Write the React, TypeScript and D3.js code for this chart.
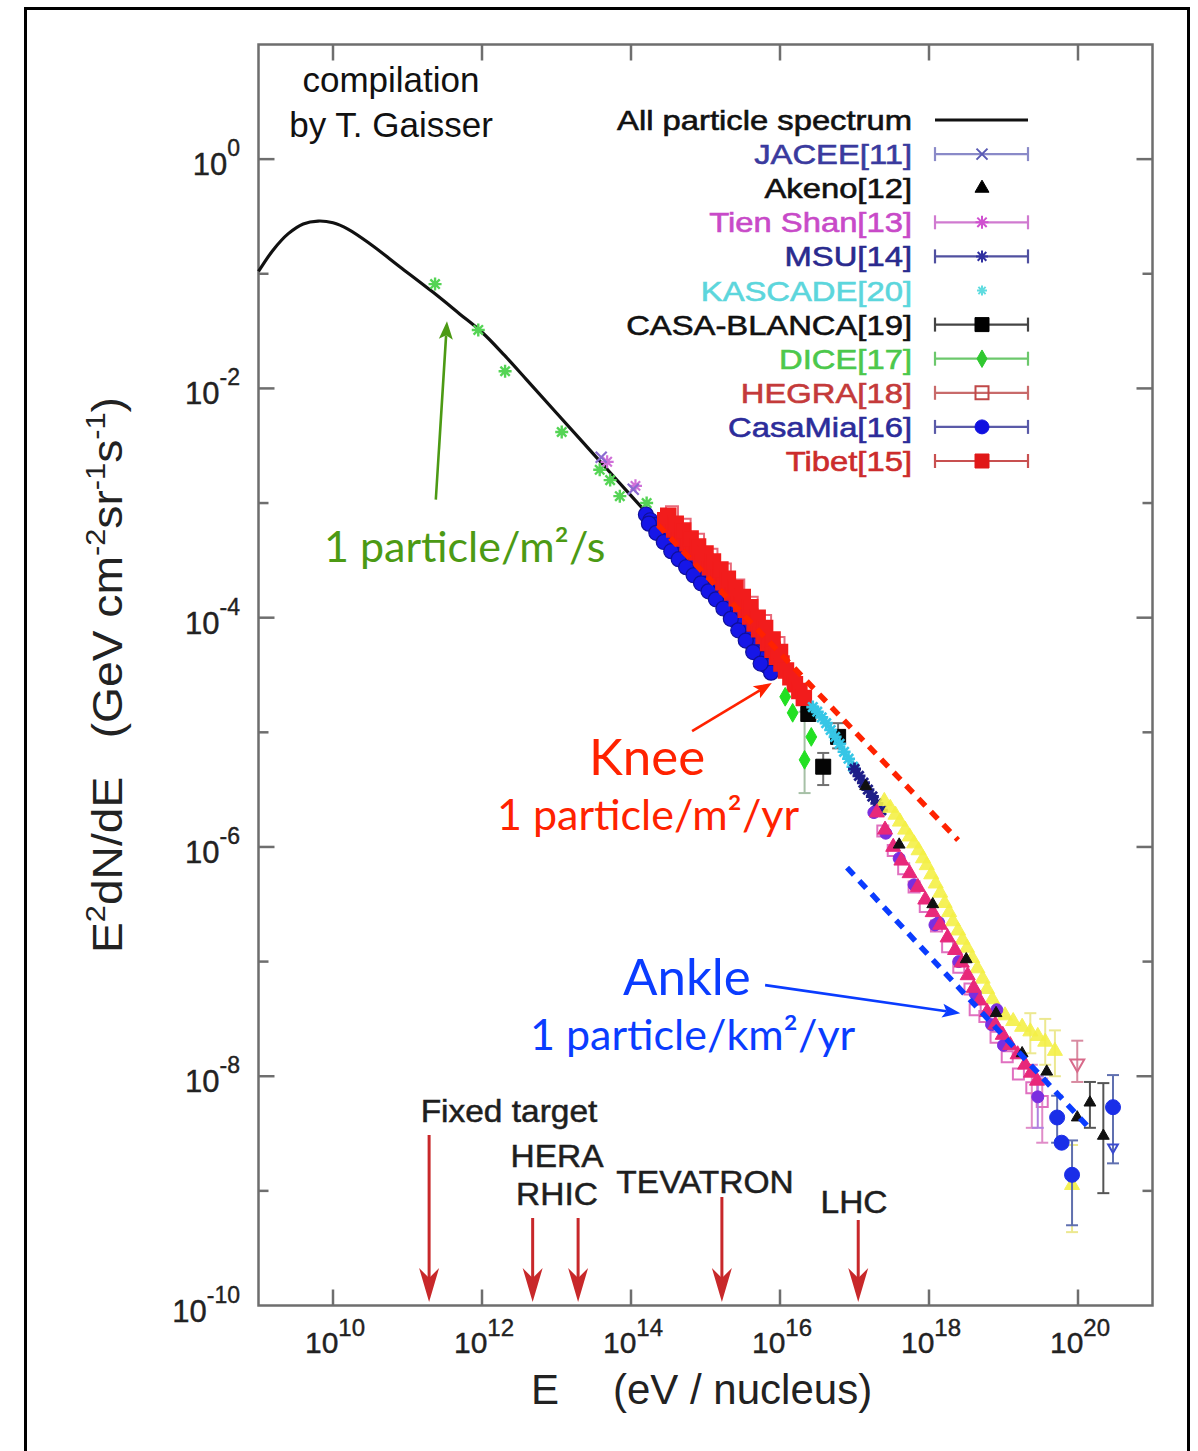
import React from 'react';
import * as d3 from 'd3';

type P = number[]; // [log10 E (eV), log10 E^2 dN/dE, errHi?, errLo?]

// ---------------- data (log10 values) ----------------
const allParticle: P[] = [
  [9.0, -0.98], [9.2, -0.79], [9.4, -0.65], [9.6, -0.565], [9.8, -0.54], [10.0, -0.555],
  [10.2, -0.61], [10.5, -0.74], [10.9, -0.94], [11.34, -1.16], [11.7, -1.35], [12.0, -1.51],
  [12.3, -1.71], [12.6, -1.925], [13.0, -2.215], [13.5, -2.575], [14.0, -2.935], [14.5, -3.295],
];
const directGreen: P[] = [
  [11.37, -1.09], [11.95, -1.49], [12.31, -1.85], [13.07, -2.38], [13.58, -2.71], [13.72, -2.8],
  [13.85, -2.94], [14.21, -3.0],
];
const jacee: P[] = [[13.6, -2.6], [14.03, -2.88]];
const tienShan: P[] = [[13.68, -2.64], [14.06, -2.85]];
const casaMia: P[] = [
  [14.2, -3.1], [14.26, -3.15], [14.32, -3.19], [14.38, -3.24], [14.44, -3.28], [14.5, -3.32],
  [14.56, -3.37], [14.62, -3.41], [14.68, -3.45], [14.74, -3.49], [14.8, -3.54], [14.86, -3.58],
  [14.92, -3.62], [14.98, -3.66], [15.04, -3.7], [15.1, -3.74], [15.16, -3.79], [15.22, -3.84],
  [15.28, -3.89], [15.34, -3.94], [15.4, -4.0], [15.46, -4.06], [15.52, -4.12], [15.58, -4.18],
  [15.64, -4.24], [15.7, -4.3], [15.76, -4.36], [15.82, -4.42], [15.88, -4.48],
  [14.24, -3.18], [14.34, -3.26], [14.44, -3.34], [14.54, -3.42], [14.64, -3.49], [14.74, -3.56],
  [14.84, -3.63], [14.94, -3.7], [15.04, -3.77], [15.14, -3.84], [15.24, -3.92], [15.34, -4.01],
  [15.44, -4.11], [15.54, -4.2], [15.64, -4.3], [15.74, -4.4],
];
const tibet: P[] = [
  [14.46, -3.15], [14.52, -3.19], [14.58, -3.23], [14.64, -3.27], [14.7, -3.31], [14.76, -3.35],
  [14.82, -3.39], [14.88, -3.43], [14.94, -3.47], [15.0, -3.51], [15.06, -3.56], [15.12, -3.6],
  [15.18, -3.64], [15.24, -3.69], [15.3, -3.73], [15.36, -3.78], [15.42, -3.83], [15.48, -3.88],
  [15.54, -3.93], [15.6, -3.99], [15.66, -4.05], [15.72, -4.1], [15.78, -4.16], [15.84, -4.22],
  [15.9, -4.28], [15.96, -4.34], [16.02, -4.4], [16.08, -4.46], [16.14, -4.52], [16.2, -4.58],
  [16.26, -4.64], [16.32, -4.7],
  [14.5, -3.11], [14.6, -3.18], [14.7, -3.24], [14.8, -3.31], [14.9, -3.38], [15.0, -3.44],
  [15.1, -3.51], [15.2, -3.58], [15.3, -3.66], [15.4, -3.74], [15.5, -3.82], [15.6, -3.91],
  [15.7, -4.0], [15.8, -4.09], [15.9, -4.19], [16.0, -4.3],
];
const hegra: P[] = [
  [14.55, -3.08], [14.72, -3.19], [14.9, -3.32], [15.08, -3.45], [15.26, -3.58], [15.44, -3.72],
  [15.62, -3.87], [15.8, -4.03], [15.98, -4.22],
];
const dice: P[] = [[16.07, -4.69], [16.17, -4.83], [16.42, -5.04], [16.33, -5.24, -4.82, -5.53]];
const casaBlanca: P[] = [[16.38, -4.84], [16.58, -5.3, -5.18, -5.46], [16.78, -5.04, -4.92, -5.14]];
const kascade: P[] = [
  [16.44, -4.78], [16.5, -4.82], [16.56, -4.87], [16.62, -4.92], [16.68, -4.98], [16.74, -5.04],
  [16.8, -5.1], [16.86, -5.17], [16.92, -5.23], [16.98, -5.3],
];
const msu: P[] = [[17.0, -5.32], [17.06, -5.38], [17.12, -5.44], [17.18, -5.5], [17.24, -5.56], [17.3, -5.62], [17.36, -5.68]];
const yellowHE: P[] = [
  [17.4, -5.6], [17.48, -5.66], [17.55, -5.72], [17.61, -5.78], [17.68, -5.85],
  [17.74, -5.91], [17.8, -5.97], [17.86, -6.03], [17.92, -6.1], [17.97, -6.16], [18.03, -6.24],
  [18.09, -6.32], [18.15, -6.4], [18.21, -6.49], [18.27, -6.57], [18.32, -6.65], [18.39, -6.73],
  [18.45, -6.81], [18.51, -6.88], [18.58, -6.97], [18.65, -7.06], [18.72, -7.15], [18.78, -7.24],
  [18.85, -7.33], [18.91, -7.41], [19.02, -7.47], [19.13, -7.52], [19.25, -7.57],
  [19.36, -7.61, -7.45, -7.8], [19.46, -7.65], [19.56, -7.7, -7.5, -7.9], [19.69, -7.78, -7.6, -8.0],
  [19.92, -8.95, -8.6, -9.36],
];
const pinkHE: P[] = [
  [17.38, -5.86], [17.52, -6.03], [17.66, -6.19], [17.8, -6.35], [17.95, -6.52], [18.1, -6.69],
  [18.25, -6.87], [18.4, -7.05], [18.55, -7.24], [18.62, -7.42], [18.75, -7.48], [18.9, -7.66],
  [19.05, -7.83], [19.2, -7.98], [19.38, -8.1, -7.9, -8.45], [19.52, -8.22, -8.02, -8.58],
];
const violetHE: P[] = [
  [17.26, -5.7], [17.42, -5.88], [17.6, -6.1], [17.8, -6.33], [18.08, -6.68], [18.13, -6.66],
  [18.4, -7.0], [18.62, -7.28], [18.84, -7.55], [18.91, -7.42], [19.0, -7.73], [19.46, -8.18, -8.0, -8.45],
];
const magentaHE: P[] = [
  [17.3, -5.7], [17.41, -5.85], [17.52, -6.0], [17.63, -6.12], [17.74, -6.23], [17.85, -6.35],
  [17.95, -6.46], [18.05, -6.57], [18.15, -6.68], [18.25, -6.79], [18.35, -6.9], [18.44, -7.01],
  [18.52, -7.12], [18.6, -7.23], [18.68, -7.34], [18.78, -7.44], [18.89, -7.55], [18.99, -7.64],
  [19.09, -7.73], [19.19, -7.81], [19.29, -7.9], [19.37, -7.97], [19.45, -8.04],
];
const akeno: P[] = [
  [17.15, -5.47], [17.6, -5.98], [18.05, -6.5], [18.5, -6.98], [18.9, -7.45], [19.25, -7.8],
  [19.58, -7.96], [19.99, -8.36], [20.16, -8.23, -8.05, -8.45], [20.34, -8.52, -8.06, -9.02],
];
const blueHE: P[] = [[19.72, -8.36, -8.17, -8.58], [19.78, -8.58], [19.92, -8.86, -8.56, -9.3], [20.47, -8.27, -7.99, -8.76]];
const pinkTail: P[] = [[19.99, -7.89, -7.69, -8.05]];
const blueLimit: P[] = [[20.47, -8.62]];

const kneeRef: P[] = [[14.36, -3.19], [18.39, -5.94]];
const ankleRef: P[] = [[16.9, -6.18], [20.12, -8.43]];

const xTickExp = [10, 12, 14, 16, 18, 20];
const yTickExp = [0, -1, -2, -3, -4, -5, -6, -7, -8, -9];
const yLabelExp = [0, -2, -4, -6, -8, -10];

const legendNames = [
  'All particle spectrum', 'JACEE[11]', 'Akeno[12]', 'Tien Shan[13]', 'MSU[14]', 'KASCADE[20]',
  'CASA-BLANCA[19]', 'DICE[17]', 'HEGRA[18]', 'CasaMia[16]', 'Tibet[15]',
];
const accelNames = ['Fixed target', 'HERA', 'RHIC', 'TEVATRON', 'LHC'];
const accelLogE = [11.29, 12.68, 13.29, 15.22, 17.05];

// ---------------- layout & styles ----------------
const W = 1198;
const H = 1451;
const PL = 258.5, PR = 1152.5, PT = 44.5, PB = 1305.5;
const xScale = d3.scaleLog().domain([1e9, 1e21]).range([PL, PR]);
const yScale = d3.scaleLog().domain([1e-10, 10]).range([PB, PT]);
const X = (le: number) => xScale(Math.pow(10, le));
const Y = (lf: number) => yScale(Math.pow(10, lf));

const SANS = "'Liberation Sans', Arial, Helvetica, sans-serif";
const HUM = "Lato, 'Open Sans', sans-serif";
const FRAME = '#6e6e6e';

const symbolPath = (type: string, s: number): string => {
  const h = s / 2;
  if (type === 'circle') return d3.symbol().type(d3.symbolCircle).size(Math.PI * h * h)() as string;
  if (type === 'square' || type === 'osquare') return d3.symbol().type(d3.symbolSquare).size(s * s)() as string;
  if (type === 'triangle' || type === 'dtriangle' || type === 'odtriangle')
    return d3.symbol().type(d3.symbolTriangle).size(s * s * 0.5)() as string;
  if (type === 'diamond') return d3.symbol().type(d3.symbolDiamond).size(s * s * 0.45)() as string;
  if (type === 'x') return `M${-h},${-h}L${h},${h}M${-h},${h}L${h},${-h}`;
  const d = h * 0.72;
  return `M${-h},0L${h},0M0,${-h}L0,${h}M${-d},${-d}L${d},${d}M${-d},${d}L${d},${-d}`;
};
const isOpen = (t: string) => ['x', 'asterisk', 'osquare', 'odtriangle'].includes(t);

type SeriesStyle = { data: P[]; marker: string; size: number; color: string; sw: number; stroke?: string; bar?: string; op?: number };
const plotSeries: SeriesStyle[] = [
  { data: directGreen, marker: 'asterisk', size: 13, color: '#55d455', sw: 2.4 },
  { data: tienShan, marker: 'asterisk', size: 13, color: '#d070d8', sw: 2.2 },
  { data: jacee, marker: 'x', size: 11, color: '#8a6ad0', sw: 2.2 },
  { data: casaMia, marker: 'circle', size: 15, color: '#1616e8', sw: 1.2, stroke: '#10109a' },
  { data: hegra, marker: 'osquare', size: 12, color: '#e86a7a', sw: 2 },
  { data: tibet, marker: 'square', size: 15, color: '#f21c1c', sw: 1.5, stroke: '#f21c1c' },
  { data: dice, marker: 'diamond', size: 15, color: '#22e022', sw: 1, bar: '#a6c0a6' },
  { data: casaBlanca, marker: 'square', size: 15, color: '#050505', sw: 1, bar: '#707070' },
  { data: kascade, marker: 'asterisk', size: 13, color: '#36c6e6', sw: 2.6 },
  { data: msu, marker: 'asterisk', size: 13, color: '#1e1e88', sw: 2.8 },
  { data: yellowHE, marker: 'triangle', size: 14, color: '#f4f046', sw: 1, bar: '#ece890', op: 0.9 },
  { data: pinkHE, marker: 'osquare', size: 11, color: '#e070c0', sw: 2, bar: '#e08cc8' },
  { data: violetHE, marker: 'circle', size: 12, color: '#7a2ee0', sw: 1, bar: '#b080e0' },
  { data: magentaHE, marker: 'triangle', size: 14, color: '#e8287a', sw: 1 },
  { data: akeno, marker: 'triangle', size: 11, color: '#111111', sw: 1, bar: '#555555' },
  { data: blueHE, marker: 'circle', size: 15, color: '#1a2ee8', sw: 1, bar: '#6070b0' },
  { data: pinkTail, marker: 'odtriangle', size: 13, color: '#d86a8a', sw: 2, bar: '#d88aa0' },
  { data: blueLimit, marker: 'odtriangle', size: 9, color: '#3a4ad0', sw: 2 },
];

const legendText = ['#111', '#3a3a9e', '#111', '#c84ac8', '#2a2a8e', '#5cd6dc', '#111', '#4cc84c', '#c43a3a', '#2c2c9a', '#cc2c2c'];
const legendMarker = ['', 'x', 'triangle', 'asterisk', 'asterisk', 'asterisk', 'square', 'diamond', 'osquare', 'circle', 'square'];
const legendMarkerColor = ['', '#5a5ab4', '#000', '#d050d0', '#3030a0', '#60dce0', '#000', '#30c830', '#c04848', '#1010e0', '#e01818'];
const legendBar = ['', '#8a8ac8', '', '#d07ad0', '#5050a0', '', '#444', '#6cc86c', '#c86a6a', '#5a5aa8', '#c85050'];
const legendSize = [0, 11, 13, 13, 12, 10, 14, 14, 13, 14, 14];

const accelTop = [1135, 1218, 1218, 1197, 1220];
const accelLabels = [
  { t: 'Fixed target', x: 509, y: 1122 },
  { t: 'HERA', x: 557, y: 1167 },
  { t: 'RHIC', x: 557, y: 1205 },
  { t: 'TEVATRON', x: 705, y: 1193 },
  { t: 'LHC', x: 854, y: 1213 },
];

function Arrow({ x1, y1, x2, y2, color, width, len, half, notch }:
  { x1: number; y1: number; x2: number; y2: number; color: string; width: number; len: number; half: number; notch: number }) {
  const a = Math.atan2(y2 - y1, x2 - x1);
  const c = Math.cos(a), s = Math.sin(a);
  const bx = x2 - len * c, by = y2 - len * s;
  const nx = x2 - (len - notch) * c, ny = y2 - (len - notch) * s;
  const head = `M${x2},${y2}L${bx - s * half},${by + c * half}L${nx},${ny}L${bx + s * half},${by - c * half}Z`;
  return (
    <g>
      <line x1={x1} y1={y1} x2={nx} y2={ny} stroke={color} strokeWidth={width} />
      <path d={head} fill={color} />
    </g>
  );
}

function Marker({ type, x, y, size, color, sw, stroke, op }:
  { type: string; x: number; y: number; size: number; color: string; sw: number; stroke?: string; op?: number }) {
  const open = isOpen(type);
  const rot = type === 'dtriangle' || type === 'odtriangle' ? ' rotate(180)' : '';
  return (
    <path
      d={symbolPath(type, size)}
      transform={`translate(${x},${y})${rot}`}
      fill={open ? 'none' : color}
      stroke={stroke || color}
      strokeWidth={sw}
      opacity={op ?? 1}
    />
  );
}

export default function App() {
  const curve = d3.line<P>().x((d) => X(d[0])).y((d) => Y(d[1])).curve(d3.curveCatmullRom.alpha(0.5))(allParticle) as string;
  const straight = d3.line<P>().x((d) => X(d[0])).y((d) => Y(d[1]));
  const legendY = (i: number) => 120 + i * 34.1;

  return (
    <svg width={W} height={H} style={{ position: 'absolute', left: 0, top: 0, background: '#fff' }} xmlns="http://www.w3.org/2000/svg">
      <rect x={0} y={0} width={W} height={H} fill="#fff" />
      {/* outer border */}
      <rect x={25.5} y={8.5} width={1163} height={1470} fill="none" stroke="#000" strokeWidth={3} />

      {/* frame */}
      <rect x={PL} y={PT} width={PR - PL} height={PB - PT} fill="none" stroke={FRAME} strokeWidth={2.5} />
      {xTickExp.map((e) => (
        <g key={'xt' + e}>
          <line x1={X(e)} x2={X(e)} y1={PB} y2={PB - 16} stroke={FRAME} strokeWidth={2.5} />
          <line x1={X(e)} x2={X(e)} y1={PT} y2={PT + 16} stroke={FRAME} strokeWidth={2.5} />
          <text x={X(e) + 2} y={1353} textAnchor="middle" fontFamily={SANS} fontSize={30} fill="#222" stroke="#222" strokeWidth={0.4}>
            <tspan>10</tspan>
            <tspan dy={-17} fontSize={24}>{e}</tspan>
          </text>
        </g>
      ))}
      {yTickExp.map((e) => {
        const major = e % 2 === 0;
        const len = major ? 16 : 10;
        return (
          <g key={'yt' + e}>
            <line x1={PL} x2={PL + len} y1={Y(e)} y2={Y(e)} stroke={FRAME} strokeWidth={2.5} />
            <line x1={PR} x2={PR - len} y1={Y(e)} y2={Y(e)} stroke={FRAME} strokeWidth={2.5} />
          </g>
        );
      })}
      {yLabelExp.map((e) => (
        <text key={'yl' + e} x={240} y={Y(e) + 16} textAnchor="end" fontFamily={SANS} fontSize={31} fill="#222" stroke="#222" strokeWidth={0.4}>
          <tspan>10</tspan>
          <tspan dy={-19} fontSize={23}>{e}</tspan>
        </text>
      ))}

      {/* axis titles */}
      <text x={531} y={1404} fontFamily={SANS} fontSize={42} fill="#222">E</text>
      <text x={613} y={1404} fontFamily={SANS} fontSize={42} fill="#222">(eV / nucleus)</text>
      <text transform="translate(122,675) rotate(-90) scale(1.1,1)" textAnchor="middle" fontFamily={SANS} fontSize={42} fill="#222" style={{ whiteSpace: 'pre' }}>
        <tspan>E</tspan>
        <tspan dy={-17} fontSize={28}>2</tspan>
        <tspan dy={17}>dN/dE   (GeV cm</tspan>
        <tspan dy={-17} fontSize={28}>-2</tspan>
        <tspan dy={17}>sr</tspan>
        <tspan dy={-17} fontSize={28}>-1</tspan>
        <tspan dy={17}>s</tspan>
        <tspan dy={-17} fontSize={28}>-1</tspan>
        <tspan dy={17}>)</tspan>
      </text>

      {/* all-particle spectrum */}
      <path d={curve} fill="none" stroke="#111" strokeWidth={3.2} />

      {/* data */}
      {plotSeries.map((s, si) => (
        <g key={'s' + si}>
          {s.bar &&
            s.data.filter((p) => p.length >= 4).map((p, pi) => (
              <g key={'b' + pi} stroke={s.bar} strokeWidth={2}>
                <line x1={X(p[0])} x2={X(p[0])} y1={Y(p[2])} y2={Y(p[3])} />
                <line x1={X(p[0]) - 6} x2={X(p[0]) + 6} y1={Y(p[2])} y2={Y(p[2])} />
                <line x1={X(p[0]) - 6} x2={X(p[0]) + 6} y1={Y(p[3])} y2={Y(p[3])} />
              </g>
            ))}
          {s.data.map((p, pi) => (
            <Marker key={pi} type={s.marker} x={X(p[0])} y={Y(p[1])} size={s.size} color={s.color} sw={s.sw} stroke={s.stroke} op={s.op} />
          ))}
        </g>
      ))}

      {/* reference dashed lines */}
      <path d={straight(kneeRef) as string} stroke="#ff2200" strokeWidth={5.5} strokeDasharray="10 8" fill="none" />
      <path d={straight(ankleRef) as string} stroke="#0a3cff" strokeWidth={5.5} strokeDasharray="10 8" fill="none" />

      {/* compilation text */}
      <text x={391} y={92} textAnchor="middle" fontFamily={SANS} fontSize={35} fill="#111">compilation</text>
      <text x={391} y={137} textAnchor="middle" fontFamily={SANS} fontSize={35} fill="#111">by T. Gaisser</text>

      {/* legend */}
      {legendNames.map((n, i) => {
        const y = legendY(i);
        return (
          <g key={'lg' + i}>
            <g transform={`translate(912,${y + 10}) scale(1.17,1)`}>
              <text x={0} y={0} textAnchor="end" fontFamily={SANS} fontSize={28} fill={legendText[i]} stroke={legendText[i]} strokeWidth={0.6}>{n}</text>
            </g>
            {i === 0 && <line x1={935} x2={1028} y1={y} y2={y} stroke="#111" strokeWidth={3} />}
            {legendBar[i] && (
              <g stroke={legendBar[i]} strokeWidth={2.2}>
                <line x1={935} x2={1028} y1={y} y2={y} />
                <line x1={935} x2={935} y1={y - 7} y2={y + 7} />
                <line x1={1028} x2={1028} y1={y - 7} y2={y + 7} />
              </g>
            )}
            {legendMarker[i] && (
              <Marker type={legendMarker[i]} x={982} y={y} size={legendSize[i]} color={legendMarkerColor[i]} sw={isOpen(legendMarker[i]) ? 2 : 1} />
            )}
          </g>
        );
      })}

      {/* accelerators */}
      {accelLogE.map((le, i) => (
        <Arrow key={'ac' + i} x1={X(le)} y1={accelTop[i]} x2={X(le)} y2={1302} color="#c8282a" width={3} len={34} half={10} notch={10} />
      ))}
      {accelLabels.map((l, i) => (
        <g key={'al' + i} transform={`translate(${l.x},${l.y}) scale(1.08,1)`}>
          <text x={0} y={0} textAnchor="middle" fontFamily={SANS} fontSize={31} fill="#1e1e1e" stroke="#1e1e1e" strokeWidth={0.5}>{accelNames[i]}</text>
        </g>
      ))}

      {/* annotations */}
      <Arrow x1={X(11.38)} y1={Y(-2.97)} x2={X(11.53)} y2={Y(-1.415)} color="#4c9a14" width={2.6} len={18} half={7} notch={4} />
      <text x={324} y={562} fontFamily={HUM} fontSize={43} fill="#4c9a14">1 particle/m²/s</text>

      <Arrow x1={X(14.82)} y1={Y(-4.99)} x2={X(15.89)} y2={Y(-4.57)} color="#ff2200" width={2.6} len={18} half={7} notch={4} />
      <text x={589} y={775} fontFamily={HUM} fontSize={51} fill="#ff2200">Knee</text>
      <text x={497} y={830} fontFamily={HUM} fontSize={43} fill="#ff2200">1 particle/m²/yr</text>

      <Arrow x1={X(15.8)} y1={Y(-7.205)} x2={X(18.42)} y2={Y(-7.45)} color="#0a3cff" width={2.6} len={18} half={7} notch={4} />
      <text x={623} y={995} fontFamily={HUM} fontSize={51} fill="#0a3cff">Ankle</text>
      <text x={530} y={1050} fontFamily={HUM} fontSize={43} fill="#0a3cff">1 particle/km²/yr</text>
    </svg>
  );
}
